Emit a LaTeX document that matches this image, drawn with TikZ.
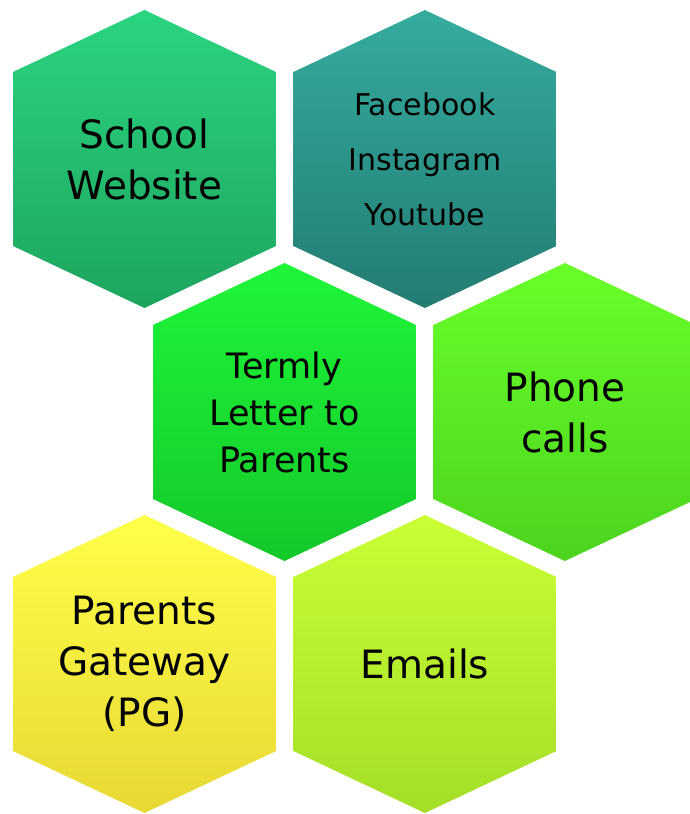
\documentclass[tikz,border=0pt]{standalone}
\usepackage{fontspec}
\setmainfont{DejaVu Sans}
\usetikzlibrary{positioning}

\definecolor{webtop}{RGB}{42,212,128}
\definecolor{webbot}{RGB}{30,165,95}
\definecolor{socialtop}{RGB}{52,172,158}
\definecolor{socialbot}{RGB}{36,124,114}
\definecolor{lettertop}{RGB}{30,246,56}
\definecolor{letterbot}{RGB}{20,200,42}
\definecolor{phonetop}{RGB}{104,255,42}
\definecolor{phonebot}{RGB}{76,212,30}
\definecolor{pgtop}{RGB}{255,255,72}
\definecolor{pgbot}{RGB}{232,216,52}
\definecolor{mailtop}{RGB}{202,255,52}
\definecolor{mailbot}{RGB}{164,222,40}

\begin{document}
\begin{tikzpicture}[
  node distance=17pt,
  hexa/.style 2 args={
    shape=rectangle, inner sep=0pt, align=center,
    minimum width=263pt, minimum height=298pt,
    font=\fontsize{39}{51}\selectfont,
    path picture={
      \shade[top color=#1, bottom color=#2]
      (path picture bounding box.north)
      -- ([yshift=-62pt] path picture bounding box.north east)
      -- ([yshift=62pt] path picture bounding box.south east)
      -- (path picture bounding box.south)
      -- ([yshift=62pt] path picture bounding box.south west)
      -- ([yshift=-62pt] path picture bounding box.north west)
      -- cycle;
    }
  }
]

  \useasboundingbox (0,0) rectangle (689pt,-814pt);

  \node[hexa={webtop}{webbot}] (web) at (144.5pt,-159pt) {School\\Website};
  \node[hexa={socialtop}{socialbot}, right=of web, font=\fontsize{30}{55}\selectfont] (social) {Facebook\\Instagram\\Youtube};

  \node[hexa={lettertop}{letterbot}, font=\fontsize{35}{47}\selectfont] (letter) at ([shift={(140pt,-253pt)}] web) {Termly\\Letter to\\Parents};
  \node[hexa={phonetop}{phonebot}, right=of letter] (phone) {Phone\\calls};

  \node[hexa={pgtop}{pgbot}] (pg) at ([shift={(0pt,-505pt)}] web) {Parents\\Gateway\\(PG)};
  \node[hexa={mailtop}{mailbot}, right=of pg] (mail) {Emails};

\end{tikzpicture}
\end{document}
